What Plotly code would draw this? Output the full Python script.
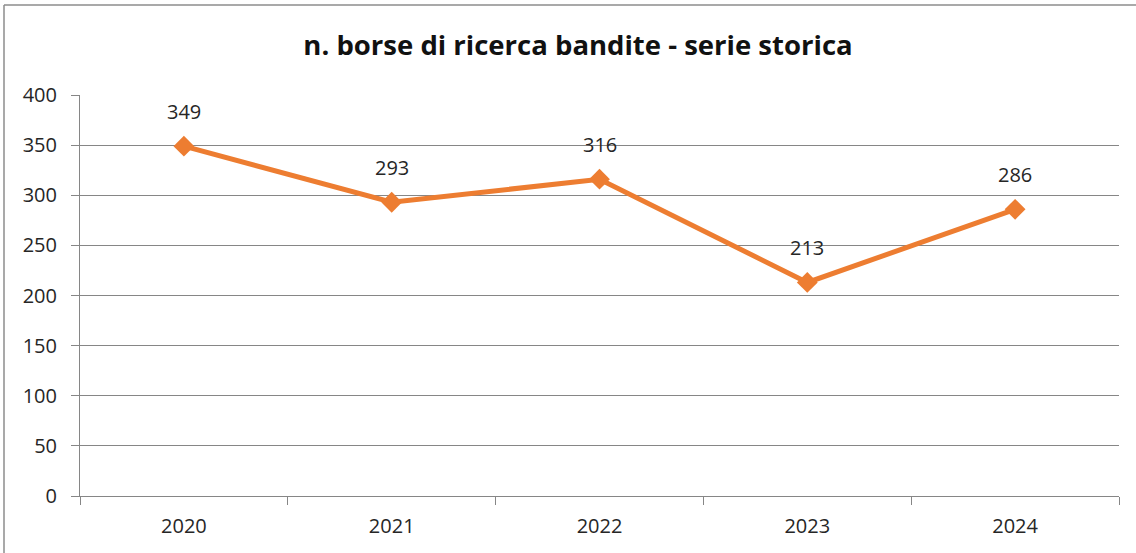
import plotly.graph_objects as go

years = ["2020", "2021", "2022", "2023", "2024"]
values = [349, 293, 316, 213, 286]
y_ticks = [0, 50, 100, 150, 200, 250, 300, 350, 400]

W, H = 1136, 553
L, R, T, B = 80, 17, 95, 57
pw, ph = W - L - R, H - T - B

fig = go.Figure()
fig.add_trace(go.Scatter(
    x=years, y=values, mode="lines+markers",
    line=dict(color="#ED7D31", width=5),
    marker=dict(symbol="diamond", size=16, color="#ED7D31"),
    showlegend=False, hoverinfo="skip",
))

for i, yv in enumerate(values):
    fig.add_annotation(x=i, y=yv, xref="x", yref="y", text=str(yv), showarrow=False,
                       yshift=35, font=dict(size=20, color="#262626", family="Open Sans"))

fig.update_layout(
    width=W, height=H,
    margin=dict(l=L, r=R, t=T, b=B),
    paper_bgcolor="white", plot_bgcolor="white",
    title=dict(text="<b>n. borse di ricerca bandite - serie storica</b>",
               x=578 / W, xanchor="center", y=1 - 45 / H, yanchor="middle",
               font=dict(size=27.5, color="#111111", family="Open Sans")),
    xaxis=dict(type="category", range=[-0.5, 4.5], tickson="boundaries",
               ticks="outside", ticklen=8, tickcolor="#868686",
               showline=True, linecolor="#868686", linewidth=1,
               showgrid=False, tickfont=dict(size=20, color="#262626", family="Open Sans"),
               ticklabelstandoff=12),
    yaxis=dict(range=[0, 400], tickvals=y_ticks, ticks="outside", ticklen=8,
               tickcolor="#868686", showline=True, linecolor="#868686", linewidth=1,
               showgrid=True, gridcolor="#868686", gridwidth=1, zeroline=False,
               tickfont=dict(size=20, color="#262626", family="Open Sans"),
               ticklabelstandoff=10),
)

# outer chart border (left and top edges visible)
bx = (4 - L) / pw
by = 1 + (T - 5) / ph
fig.add_shape(type="line", xref="paper", yref="paper", x0=bx, x1=bx, y0=-0.3, y1=by,
              line=dict(color="#8c8c8c", width=1.5))
fig.add_shape(type="line", xref="paper", yref="paper", x0=bx, x1=1.1, y0=by, y1=by,
              line=dict(color="#8c8c8c", width=1.5))

fig.write_html("out.html", config={"displayModeBar": False},
               post_script="document.body.style.margin='0';")
